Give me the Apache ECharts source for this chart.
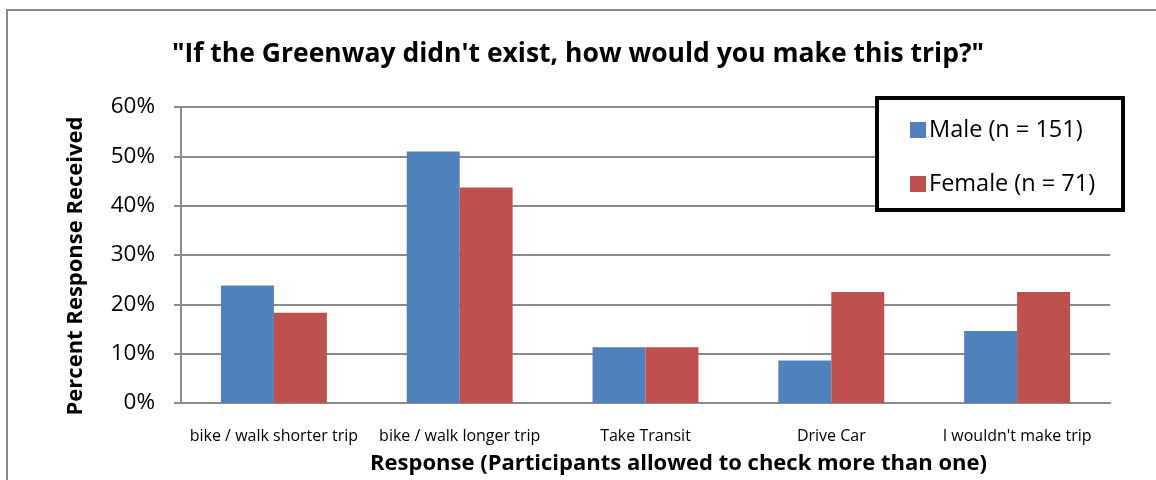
<!DOCTYPE html>
<html>
<head>
<meta charset="utf-8">
<script src="https://cdn.jsdelivr.net/npm/echarts@6/dist/echarts.min.js"></script>
<style>
  html, body { margin: 0; padding: 0; background: #fff; }
  #chart { width: 1156px; height: 480px; }
</style>
</head>
<body>
<div id="chart"></div>
<script>
// Survey answers, share of respondents (%) by gender
const categories = ['bike / walk shorter trip', 'bike / walk longer trip', 'Take Transit', 'Drive Car', "I wouldn't make trip"];
const maleValues = [23.8, 51.0, 11.3, 8.6, 14.6];
const femaleValues = [18.3, 43.7, 11.3, 22.5, 22.5];
const seriesNames = ['Male (n = 151)', 'Female (n = 71)'];
const yTicks = [0, 10, 20, 30, 40, 50, 60];

const FONT = 'Open Sans';
const GRID = '#8c8c8c';

const chart = echarts.init(document.getElementById('chart'), null, { renderer: 'canvas' });

chart.setOption({
  backgroundColor: '#ffffff',
  animation: false,
  title: {
    text: '"If the Greenway didn\'t exist, how would you make this trip?"',
    left: 'center',
    top: 36,
    textStyle: { fontFamily: FONT, fontWeight: 'bold', fontSize: 26.5, color: '#000' }
  },
  graphic: [
    { type: 'rect', shape: { x: 7, y: 10, width: 1300, height: 700 }, style: { fill: null, stroke: '#8a8a8a', lineWidth: 2 }, silent: true },
    { type: 'rect', z: 100, shape: { x: 877, y: 98, width: 246, height: 112 }, style: { fill: '#fff', stroke: '#000', lineWidth: 4 }, silent: true }
  ],
  legend: {
    orient: 'vertical',
    left: 905,
    top: 111,
    z: 120,
    itemWidth: 16,
    itemHeight: 16,
    itemGap: 26,
    icon: 'rect',
    textStyle: { fontFamily: FONT, fontSize: 23.5, color: '#000', lineHeight: 28, padding: [0, 0, 0, -2] },
    data: seriesNames
  },
  grid: { left: 181, right: 46, top: 107, bottom: 77, containLabel: false },
  xAxis: {
    type: 'category',
    data: categories,
    name: 'Response (Participants allowed to check more than one)',
    nameLocation: 'middle',
    nameGap: 50,
    nameTextStyle: { fontFamily: FONT, fontWeight: 'bold', fontSize: 22, color: '#000', padding: [0, 0, 0, 66] },
    axisLine: { lineStyle: { color: GRID, width: 2 } },
    axisTick: { show: false },
    axisLabel: { fontFamily: FONT, fontSize: 16, color: '#000', margin: 25, interval: 0 }
  },
  yAxis: {
    type: 'value',
    min: 0,
    max: 60,
    interval: 10,
    name: 'Percent Response Received',
    nameLocation: 'middle',
    nameGap: 94,
    nameTextStyle: { fontFamily: FONT, fontWeight: 'bold', fontSize: 22, color: '#000', padding: [0, 22, 0, 0] },
    axisLine: { show: true, lineStyle: { color: GRID, width: 2 } },
    axisTick: { show: true, length: 7, lineStyle: { color: GRID, width: 2 } },
    splitLine: { show: true, lineStyle: { color: GRID, width: 2 } },
    axisLabel: {
      fontFamily: FONT, fontSize: 22.5, color: '#000', margin: 26,
      formatter: v => (yTicks.includes(v) ? v + '%' : '')
    }
  },
  series: [
    {
      name: seriesNames[0], type: 'bar', data: maleValues,
      barGap: '0%', barCategoryGap: '43%',
      itemStyle: { color: '#4F81BD' }
    },
    {
      name: seriesNames[1], type: 'bar', data: femaleValues,
      barGap: '0%', barCategoryGap: '43%',
      itemStyle: { color: '#C0504D' }
    }
  ]
});
</script>
</body>
</html>
